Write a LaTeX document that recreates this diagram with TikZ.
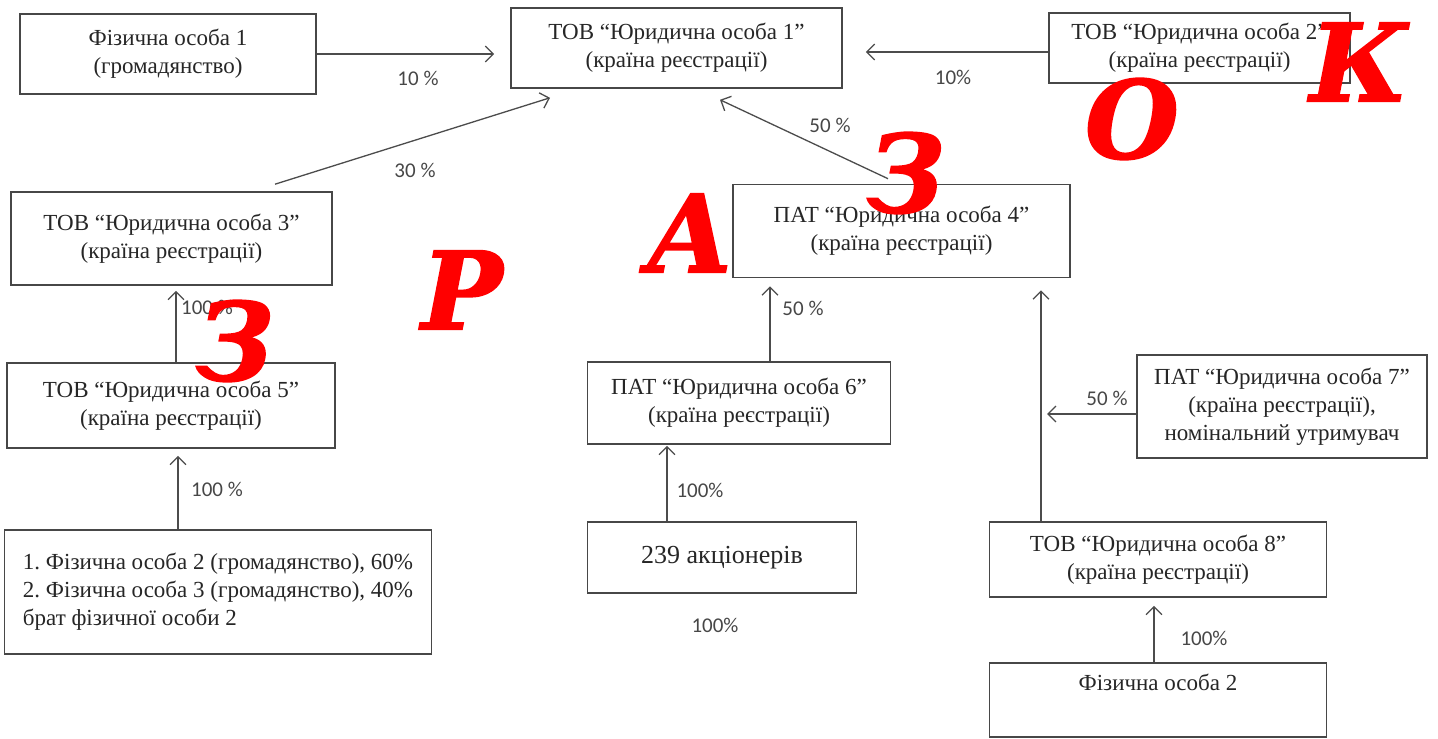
\documentclass[tikz,border=0pt]{standalone}
\usepackage{fontspec}
\setmainfont{Liberation Serif}
\newfontfamily\lblfont{Carlito}
\newfontfamily\wmfont[BoldItalicFeatures={FakeBold=1.5}]{DejaVu Serif}
\usetikzlibrary{arrows.meta,calc}
\begin{document}
\begin{tikzpicture}[x=0.5pt,y=-0.5pt,
  box/.style={draw=black!72, line width=0.8pt, align=center, inner sep=0pt,
    font=\fontsize{11.5}{14}\selectfont, text=black!85},
  arr/.style={draw=black!70, line width=0.65pt, -{Straight Barb[length=4pt,width=8pt]}},
  pct/.style={font=\lblfont\fontsize{10.5}{12}\selectfont, text=black!72, inner sep=0pt},
  wm/.style={font=\wmfont\bfseries\itshape\fontsize{54}{54}\selectfont, text=red, inner sep=0pt}]
\useasboundingbox[fill=white] (0,0) rectangle (1438,738);

% boxes
\node[box, minimum width=148pt, minimum height=40pt] (F1) at (168,54) {Фізична особа 1\\(громадянство)};
\node[box, minimum width=165.5pt, minimum height=40pt] (J1) at (676.5,48) {ТОВ “Юридична особа 1”\\(країна реєстрації)};
\node[box, minimum width=150.5pt, minimum height=35pt] (J2) at (1199.5,48) {ТОВ “Юридична особа 2”\\(країна реєстрації)};
\node[box, minimum width=160.5pt, minimum height=46.5pt] (J3) at (171.5,238.5) {ТОВ “Юридична особа 3”\\(країна реєстрації)};
\node[box, minimum width=164pt, minimum height=42.5pt] (J5) at (171,405.5) {ТОВ “Юридична особа 5”\\(країна реєстрації)};
\node[box, minimum width=213.5pt, minimum height=62pt, align=left] (L) at (218,592) {1.\ Фізична особа 2 (громадянство), 60\%\\2.\ Фізична особа 3 (громадянство), 40\%\\брат фізичної особи 2};
\node[box, minimum width=168.5pt, minimum height=46.5pt] (J4) at (901.5,231) {ПАТ “Юридична особа 4”\\(країна реєстрації)};
\node[box, minimum width=151.5pt, minimum height=41pt] (J6) at (739,403) {ПАТ “Юридична особа 6”\\(країна реєстрації)};
\node[box, minimum width=134.5pt, minimum height=35.5pt, font=\fontsize{13}{15}\selectfont] (A) at (722,557.5) {239 акціонерів};
\node[box, minimum width=145pt, minimum height=51.5pt] (J7) at (1282,406.5) {ПАТ “Юридична особа 7”\\(країна реєстрації),\\номінальний утримувач};
\node[box, minimum width=168.5pt, minimum height=37.5pt] (J8) at (1158,559.5) {ТОВ “Юридична особа 8”\\(країна реєстрації)};
\node[box, minimum width=168.5pt, minimum height=37pt] (F2) at (1158,700) {Фізична особа 2\\\strut};

% connectors
\draw[arr] (F1.east) -- ($(F1.east -| J1.west)+(-16,0)$);
\draw[arr] ($(J2.west)+(0,4)$) -- ($(J2.west -| J1.east)+(23,4)$);
\draw[arr] ($(J3.north)+(103.5,-7)$) -- ($(J1.south)+(-126.5,9)$);
\draw[arr] ($(J4.north)+(-13.5,-5)$) -- ($(J1.south)+(43.5,11)$);
\draw[arr] ($(J5.north)+(5,0)$) -- ($(J3.south)+(4.5,5)$);
\draw[arr] ($(L.north)+(-40,0)$) -- ($(J5.south)+(7,7)$);
\draw[arr] ($(J6.north)+(31,0)$) -- ($(J4.south)+(-131.5,8)$);
\draw[arr] ($(A.north)+(-55,0)$) -- ($(J6.south)+(-72,1)$);
\draw[arr] ($(J8.north)+(-117,0)$) -- ($(J4.south)+(139.5,12)$);
\coordinate (T7) at (1047,414);
\draw[arr] ($(J7.west)+(0,7.5)$) -- (T7);
\draw[arr] ($(F2.north)+(-4,0)$) -- ($(J8.south)+(-4,8)$);

% percentage labels
\node[pct] (p1) at (418,78) {10 \%};
\node[pct] (p2) at (953,77) {10\%};
\node[pct] (p3) at (415,170) {30 \%};
\node[pct] (p4) at (830,125) {50 \%};
\node[pct] (p5) at (207,307) {100 \%};
\node[pct] (p6) at (803,308) {50 \%};
\node[pct] (p7) at (1107,398) {50 \%};
\node[pct] (p8) at (217,489) {100 \%};
\node[pct] (p9) at (700,490) {100\%};
\node[pct] (p10) at (715,625) {100\%};
\node[pct] (p11) at (1204,638) {100\%};

% watermark
\node[wm] (w1) at (235,341) {З};
\node[wm] (w2) at (462,290) {Р};
\node[wm] (w3) at (690,233) {А};
\node[wm] (w4) at (906,173) {З};
\node[wm] (w5) at (1132,119) {О};
\node[wm] (w6) at (1359,62) {К};
\end{tikzpicture}
\end{document}
